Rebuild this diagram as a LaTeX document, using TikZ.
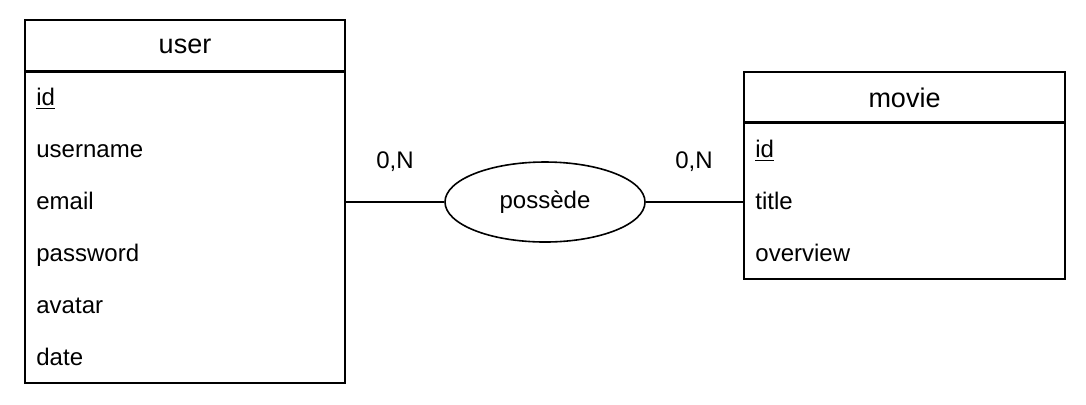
\documentclass[tikz,border=0pt]{standalone}
\usepackage{fontspec}
\setmainfont{Liberation Sans}
\tikzset{
  entity/.style={draw,line width=1pt,minimum width=160pt,inner sep=0pt,font=\fontsize{13.5}{15}\selectfont},
  attrbox/.style={draw,line width=1pt,minimum width=160pt,inner sep=0pt},
  attr/.style={anchor=mid west,inner sep=0pt,font=\fontsize{12}{14}\selectfont},
  relation/.style={draw,ellipse,line width=0.8pt,minimum width=100pt,minimum height=40pt,inner sep=0pt,font=\fontsize{12}{14}\selectfont},
  card/.style={inner sep=0pt,font=\fontsize{12}{14}\selectfont}
}
\usetikzlibrary{shapes.geometric}
\begin{document}
\begin{tikzpicture}[x=0.5pt,y=-0.5pt]
\useasboundingbox (0,0) rectangle (1086,404);
% user
\node[attrbox,minimum height=156pt] (userattr) at (185,227) {};
\node[entity,minimum height=26pt] (user) at (185,46) {user};
\foreach \name [count=\i from 0] in {\underline{id},username,email,password,avatar,date}
  \node[attr] (user\i) at (36,{100+52*\i}) {\name};
% movie
\node[attrbox,minimum width=160.5pt,minimum height=78.5pt] (movieattr) at (904.5,200.5) {};
\node[entity,minimum width=160.5pt,minimum height=25.5pt] (movie) at (904.5,97.5) {movie};
\foreach \name [count=\i from 0] in {\underline{id},title,overview}
  \node[attr] (movie\i) at (755,{152+52*\i}) {\name};
% association
\node[relation] (possede) at (545,202) {possède};
\draw[line width=0.8pt] (possede.west) -- (possede.west -| userattr.east);
\draw[line width=0.8pt] (possede.east) -- (possede.east -| movieattr.west);
\node[card] (carduser) at (395,162) {0,N};
\node[card] (cardmovie) at (694,162) {0,N};
\end{tikzpicture}
\end{document}
